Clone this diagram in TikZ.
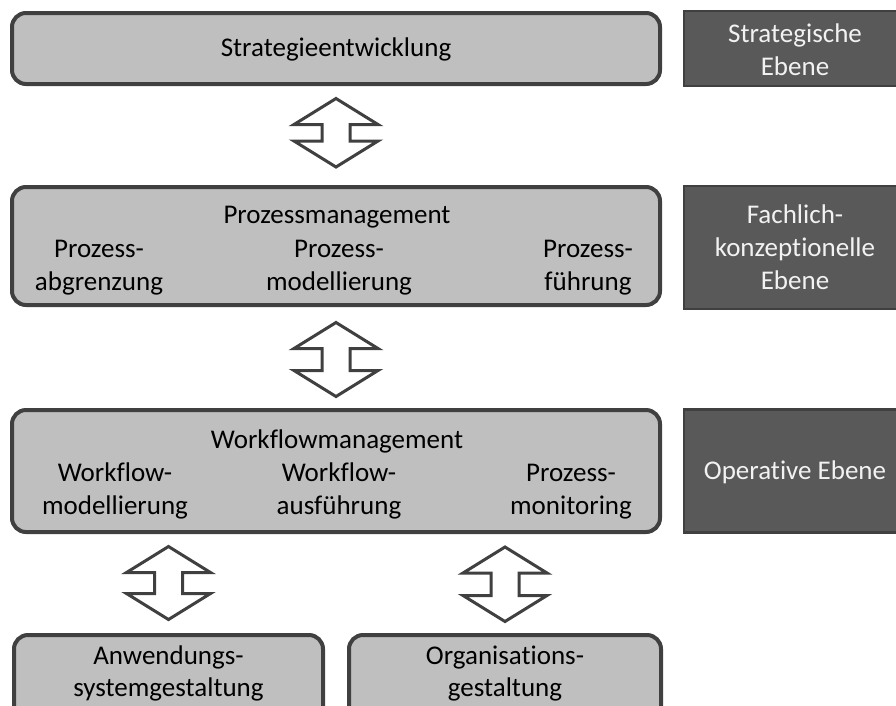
\documentclass[tikz,border=0pt]{standalone}
\usepackage{fontspec}
\setmainfont{Carlito}[Ligatures={NoCommon,NoContextual},Contextuals=NoAlternate]
\usetikzlibrary{calc}

\definecolor{boxfill}{HTML}{BFBFBF}
\definecolor{edge}{HTML}{404040}
\definecolor{levelfill}{HTML}{595959}
\definecolor{leveltext}{HTML}{F2F2F2}

\newcommand\labelfont{\fontsize{27}{33}\selectfont}
\newcommand\smalllabelfont{\fontsize{27}{31.5}\selectfont}

% hollow up/down block arrow between two stacked nodes
% #1 upper node, #2 lower node, #3 gap below #1, #4 gap above #2
\newcommand\updown[4]{%
  \draw[blockarrow] let \p1=(#1.south), \p2=(#2.north) in
    (\x2,\y1-#3pt) -- ++(42pt,-26pt) -- ++(-28pt,0pt)
    -- (\x2+14pt,\y2+#4pt+26pt) -- ++(28pt,0pt) -- (\x2,\y2+#4pt)
    -- ++(-42pt,26pt) -- ++(28pt,0pt)
    -- (\x2-14pt,\y1-#3pt-26pt) -- ++(-28pt,0pt) -- cycle;}

\begin{document}
\begin{tikzpicture}[x=1pt,y=-1pt,
  stage/.style={draw=edge, fill=boxfill, line width=4pt, rounded corners=14pt, inner sep=0pt},
  level/.style={draw=edge, fill=levelfill, line width=2.5pt, inner sep=0pt},
  lbl/.style={font=\labelfont, align=center, anchor=base, inner sep=0pt},
  lowlbl/.style={lbl, font=\smalllabelfont},
  levellbl/.style={lbl, text=leveltext},
  blockarrow/.style={draw=edge, fill=white, line width=3pt, line join=miter}]

\useasboundingbox (0,0) rectangle (896,705);
\clip (0,0) rectangle (896,705);

% main stages
\node[stage, minimum width=648pt, minimum height=71pt]  (strat) at (336,48.5) {};
\node[stage, minimum width=648pt, minimum height=118pt] (pm)    at (336,246) {};
\node[stage, minimum width=648pt, minimum height=122pt] (wfm)   at (336,471) {};
\node[stage, minimum width=309pt, minimum height=95pt]  (asg)   at (168.5,682.5) {};
\node[stage, minimum width=312pt, minimum height=95pt]  (og)    at (505,682.5) {};

% level boxes on the right
\node[level, minimum width=222pt, minimum height=75pt]  (lvS) at (795,48.5) {};
\node[level, minimum width=222pt, minimum height=123pt] (lvF) at (795,247.5) {};
\node[level, minimum width=222pt, minimum height=123pt] (lvO) at (795,471) {};

% stage texts (anchored at the baseline of their last line)
\node[lbl] (stratT) at (336,56) {Strategieentwicklung};

\node[lbl] (pmT)  at (337,223) {Prozessmanagement};
\node[lbl] (pmA)  at (99,290)  {Prozess-\\abgrenzung};
\node[lbl] (pmB)  at (339,290) {Prozess-\\modellierung};
\node[lbl] (pmC)  at (588,290) {Prozess-\\führung};

\node[lbl] (wfmT) at (337,448) {Workflowmanagement};
\node[lbl] (wfmA) at (115,514) {Workflow-\\modellierung};
\node[lbl] (wfmB) at (339,514) {Workflow-\\ausführung};
\node[lbl] (wfmC) at (571,514) {Prozess-\\monitoring};

\node[lowlbl] (asgT) at (168.5,696) {Anwendungs-\\systemgestaltung};
\node[lowlbl] (ogT)  at (505,696)   {Organisations-\\gestaltung};

% level texts
\node[levellbl] (lvST) at (795,75)  {Strategische\\Ebene};
\node[levellbl] (lvFT) at (795,289) {Fachlich-\\konzeptionelle\\Ebene};
\node[levellbl] (lvOT) at (795,479) {Operative Ebene};

% block arrows
\updown{strat}{pm}{12.5}{18}
\updown{pm}{wfm}{15.5}{11.5}
\updown{wfm}{asg}{12.5}{13.5}
\updown{wfm}{og}{13}{11.5}
\end{tikzpicture}
\end{document}
